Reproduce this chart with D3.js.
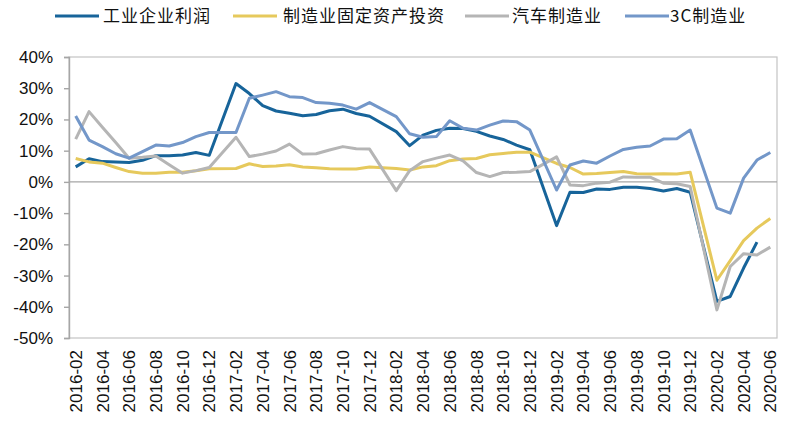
<!DOCTYPE html>
<meta charset="utf-8">
<script src="https://d3js.org/d3.v7.min.js"></script>
<style>
  body { margin: 0; background: #fff; }
  text { font-family: "Liberation Sans", Arial, sans-serif; fill: #111; }
  .legend text { font-family: "Noto Sans CJK SC", sans-serif; }
</style>
<div id="chart"></div>
<script>
// months (January has no data in the source, kept as empty slots)
var months = [
  "2016-02","2016-03","2016-04","2016-05","2016-06","2016-07","2016-08","2016-09","2016-10","2016-11","2016-12",
  "2017-01","2017-02","2017-03","2017-04","2017-05","2017-06","2017-07","2017-08","2017-09","2017-10","2017-11","2017-12",
  "2018-01","2018-02","2018-03","2018-04","2018-05","2018-06","2018-07","2018-08","2018-09","2018-10","2018-11","2018-12",
  "2019-01","2019-02","2019-03","2019-04","2019-05","2019-06","2019-07","2019-08","2019-09","2019-10","2019-11","2019-12",
  "2020-01","2020-02","2020-03","2020-04","2020-05","2020-06"];

var seriesNames = ["工业企业利润", "制造业固定资产投资", "汽车制造业", "3C制造业"];

var profit = [4.8, 7.4, 6.5, 6.4, 6.2, 6.9, 8.4, 8.4, 8.6, 9.4, 8.5,
  null, 31.5, 28.3, 24.4, 22.7, 22.0, 21.2, 21.6, 22.8, 23.3, 21.9, 21.0,
  null, 16.1, 11.6, 15.0, 16.5, 17.2, 17.1, 16.2, 14.7, 13.6, 11.8, 10.3,
  null, -14.0, -3.3, -3.4, -2.3, -2.4, -1.7, -1.7, -2.1, -2.9, -2.1, -3.3,
  null, -38.3, -36.7, -27.6, -19.3, null];

var mfgInvest = [7.5, 6.4, 6.0, 4.6, 3.3, 2.8, 2.8, 3.1, 3.1, 3.6, 4.2,
  null, 4.3, 5.8, 4.9, 5.1, 5.5, 4.8, 4.5, 4.2, 4.1, 4.1, 4.8,
  null, 4.3, 3.8, 4.8, 5.2, 6.8, 7.3, 7.5, 8.7, 9.1, 9.5, 9.5,
  null, 5.9, 4.6, 2.5, 2.7, 3.0, 3.3, 2.6, 2.5, 2.6, 2.5, 3.1,
  null, -31.5, -25.2, -18.8, -14.8, -11.7];

var auto = [13.7, 22.5, 17.5, 12.6, 7.6, 7.9, 8.3, 5.5, 2.8, 3.6, 4.6,
  null, 14.3, 8.1, 8.9, 9.9, 12.1, 8.9, 9.0, 10.2, 11.3, 10.6, 10.5,
  null, -2.8, 3.6, 6.5, 7.6, 8.6, 6.7, 3.0, 1.7, 3.0, 3.1, 3.3,
  null, 8.0, -1.0, -1.2, -0.4, -0.1, 1.6, 1.5, 1.5, -0.4, -0.6, -1.5,
  null, -41.0, -27.1, -23.0, -23.4, -20.9];

var elec3c = [21.1, 13.4, 11.3, 9.0, 7.6, 9.7, 11.8, 11.5, 12.6, 14.5, 15.8,
  null, 15.8, 26.8, 27.8, 28.9, 27.3, 27.0, 25.4, 25.2, 24.6, 23.3, 25.4,
  null, 20.9, 15.4, 14.3, 14.5, 19.6, 17.2, 16.6, 18.2, 19.5, 19.3, 16.6,
  null, -2.6, 5.4, 6.7, 6.0, 8.3, 10.4, 11.1, 11.5, 13.7, 13.8, 16.6,
  null, -8.4, -10.0, 1.2, 7.0, 9.4];

var yTicks = [-50, -40, -30, -20, -10, 0, 10, 20, 30, 40];

var colors = ["#17649a", "#e6c95c", "#b5b5b5", "#7397c9"];
var allSeries = [profit, mfgInvest, auto, elec3c];

var W = 800, H = 428;
var plot = {left: 69, right: 777, top: 57, bottom: 338};

var svg = d3.select("#chart").append("svg")
  .attr("width", W).attr("height", H);

var x = d3.scaleBand().domain(months).range([plot.left, plot.right]);
var y = d3.scaleLinear().domain([-50, 40]).range([plot.bottom, plot.top]);

// plot frame
svg.append("rect")
  .attr("x", plot.left).attr("y", plot.top)
  .attr("width", plot.right - plot.left).attr("height", plot.bottom - plot.top)
  .attr("fill", "none").attr("stroke", "#c4c4c4").attr("stroke-width", 1.2);

// y axis
var yAxis = svg.append("g")
  .attr("transform", "translate(" + plot.left + ",0)")
  .call(d3.axisLeft(y).tickValues(yTicks).tickSize(5).tickPadding(11)
    .tickFormat(function(d) { return d + "%"; }));
yAxis.select(".domain").attr("stroke", "#a6a6a6").attr("stroke-width", 1.4);
yAxis.selectAll(".tick line").attr("stroke", "#a6a6a6").attr("stroke-width", 1.4);
yAxis.selectAll("text").style("font-size", "17px").attr("fill", "#111")
  .style("font-family", "'Liberation Sans', Arial, sans-serif");

// zero line
svg.append("line")
  .attr("x1", plot.left).attr("x2", plot.right)
  .attr("y1", y(0)).attr("y2", y(0))
  .attr("stroke", "#a6a6a6").attr("stroke-width", 1.4);

// x labels (every other month)
var xLabels = months.filter(function(d, i) { return i % 2 === 0; });
svg.append("g").selectAll("text")
  .data(xLabels)
  .join("text")
  .attr("transform", function(d) {
    return "translate(" + (x(d) + x.bandwidth() / 2) + "," + (plot.bottom + 12) + ") rotate(-90)";
  })
  .attr("text-anchor", "end")
  .attr("dy", "0.36em")
  .style("font-size", "17px")
  .text(function(d) { return d; });

// lines
var line = d3.line()
  .x(function(d) { return x(d.m) + x.bandwidth() / 2; })
  .y(function(d) { return y(d.v); });

allSeries.forEach(function(s, k) {
  var pts = months.map(function(m, i) { return {m: m, v: s[i]}; })
    .filter(function(d) { return d.v !== null; });
  svg.append("path")
    .datum(pts)
    .attr("d", line)
    .attr("fill", "none")
    .attr("stroke", colors[k])
    .attr("stroke-width", 3)
    .attr("stroke-linejoin", "round");
});

// legend
var legendPos = [{lx: 55, tx: 103}, {lx: 233, tx: 283}, {lx: 465, tx: 512}, {lx: 625, tx: 670}];
var legend = svg.append("g").attr("class", "legend");
seriesNames.forEach(function(name, k) {
  legend.append("line")
    .attr("x1", legendPos[k].lx).attr("x2", legendPos[k].lx + 44)
    .attr("y1", 16).attr("y2", 16)
    .attr("stroke", colors[k]).attr("stroke-width", 3);
  legend.append("text")
    .attr("x", legendPos[k].tx).attr("y", 16)
    .attr("dy", "0.36em")
    .style("font-size", "17px")
    .style("letter-spacing", "1px")
    .text(name);
});
</script>
